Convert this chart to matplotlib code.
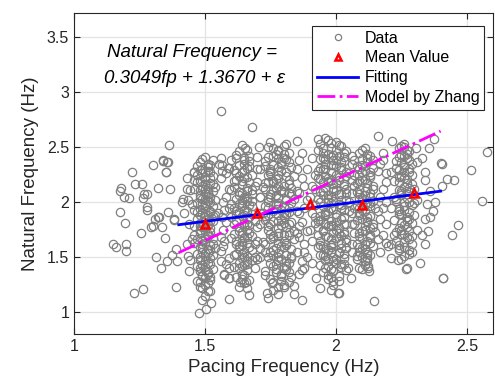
import matplotlib
matplotlib.use("Agg")
import matplotlib.pyplot as plt
import numpy as np

plt.rcParams["font.family"] = ["Liberation Sans", "DejaVu Sans"]

# scattered points left of the dense bands (fp, fn)
left_pts = [
    (1.362, 2.52), (1.34, 2.37), (1.36, 2.36), (1.30, 2.34), (1.22, 2.27), (1.35, 2.27),
    (1.234, 2.16), (1.26, 2.16), (1.32, 2.13), (1.366, 2.12), (1.18, 2.13), (1.177, 2.10),
    (1.19, 2.045), (1.21, 2.04), (1.268, 2.075), (1.277, 2.07), (1.265, 2.04), (1.278, 1.955),
    (1.28, 1.93), (1.177, 1.91), (1.36, 1.91), (1.32, 1.86), (1.31, 1.85), (1.43, 2.115),
    (1.443, 2.11), (1.417, 2.03), (1.413, 2.00), (1.435, 2.02), (1.46, 2.27), (1.38, 1.845),
    (1.196, 1.81), (1.326, 1.86), (1.30, 1.78), (1.293, 1.77), (1.38, 1.84), (1.335, 1.77),
    (1.255, 1.72), (1.347, 1.67), (1.15, 1.615), (1.16, 1.595), (1.20, 1.62), (1.198, 1.555),
    (1.39, 1.57), (1.43, 1.62), (1.313, 1.50), (1.375, 1.515), (1.356, 1.46), (1.332, 1.40),
    (1.395, 1.46), (1.436, 1.51), (1.442, 1.47), (1.231, 1.175), (1.265, 1.206), (1.39, 1.23),
    (1.338, 2.38), (1.357, 2.36), (1.35, 2.275), (1.458, 2.27), (1.44, 1.80), (1.45, 1.66),
    (1.42, 1.90), (1.44, 1.37), (1.43, 2.22), (1.45, 1.98),
]

# scattered points right of the dense bands
right_pts = [
    (2.576, 2.457), (2.516, 2.29), (2.40, 2.355), (2.405, 2.35), (2.424, 2.21), (2.45, 2.197),
    (2.405, 2.145), (2.557, 2.01), (2.374, 2.57), (2.355, 2.49), (2.327, 2.40), (2.346, 1.98),
    (2.465, 1.79), (2.443, 1.70), (2.359, 1.86), (2.32, 1.45), (2.41, 1.31), (2.269, 1.39),
    (2.237, 1.47), (2.209, 1.49), (2.408, 1.305), (2.34, 1.62), (2.36, 2.10), (2.35, 1.74),
    (2.38, 2.00), (2.34, 2.27), (2.37, 1.92), (2.34, 2.20), (2.33, 1.70), (2.34, 1.85),
]

# points between / around the bands, including outliers
mid_pts = [
    (1.563, 2.83), (1.678, 2.68), (2.159, 2.60), (1.93, 2.575), (1.85, 2.555), (2.216, 2.555),
    (2.304, 2.49), (1.705, 2.50), (1.654, 2.49), (1.78, 2.46), (1.563, 2.40), (1.553, 2.35),
    (1.589, 2.31), (1.61, 2.19), (1.566, 2.34), (1.566, 2.28), (1.59, 2.31), (1.572, 1.93),
    (1.566, 1.86), (1.572, 1.65), (1.56, 1.555), (1.59, 1.49), (1.572, 1.34), (1.59, 1.31),
    (1.593, 1.115), (1.667, 1.155), (1.736, 1.175), (1.742, 1.13), (1.755, 1.26), (1.78, 1.23),
    (1.80, 1.23), (1.82, 1.27), (1.635, 1.27), (1.656, 1.27), (1.572, 1.35), (1.593, 1.31),
    (1.69, 1.40), (1.869, 1.106), (1.88, 1.40), (1.925, 1.305), (1.938, 1.215), (1.97, 1.335),
    (1.99, 1.28), (2.01, 1.175), (2.147, 1.10), (2.008, 1.175), (2.056, 1.31), (2.048, 1.40),
    (2.124, 1.40), (2.128, 1.37), (2.09, 1.40), (2.124, 1.42), (2.27, 1.40),
    (2.19, 1.625), (2.29, 1.55), (1.58, 2.05), (1.57, 1.75), (1.59, 2.12),
    (1.58, 1.44), (1.70, 2.30), (1.71, 2.05), (1.70, 1.77), (1.71, 1.58), (1.70, 2.41),
    (1.86, 2.38), (1.87, 2.22), (1.86, 2.08), (1.88, 1.95), (1.87, 1.82), (1.86, 1.68),
    (1.88, 1.55), (1.87, 1.46), (1.89, 2.30), (1.89, 1.74), (1.86, 1.35), (2.06, 2.42),
    (2.06, 2.20), (2.06, 1.90), (2.06, 1.62), (2.17, 2.35), (2.18, 2.12), (2.17, 1.85),
    (2.18, 1.70), (2.19, 2.00), (2.18, 2.45), (2.17, 1.55), (2.19, 2.26), (1.84, 1.16),
    (1.56, 2.22), (1.57, 2.00), (1.58, 1.82), (1.56, 1.68), (1.57, 1.60), (1.59, 1.40),
    (1.58, 2.26), (1.55, 1.90), (1.59, 1.95), (1.56, 1.46), (1.87, 2.45), (1.88, 2.15),
    (1.86, 1.90), (1.88, 1.62), (1.87, 1.38), (1.89, 2.02), (1.86, 1.78), (1.89, 1.50),
    (2.18, 2.38), (2.19, 1.80), (2.17, 2.05), (2.20, 1.60), (2.18, 1.95), (2.19, 2.18),
    (1.70, 2.18), (1.71, 1.90), (1.70, 1.65), (1.70, 1.48),
]

band_a = [
    (1.50, 2.41), (1.48, 2.36), (1.52, 2.34), (1.49, 2.30), (1.51, 2.28), (1.47, 2.25), (1.53, 2.24),
    (1.50, 2.21), (1.48, 2.19), (1.52, 2.17), (1.49, 2.15), (1.51, 2.13), (1.46, 2.12), (1.53, 2.10),
    (1.50, 2.08), (1.48, 2.06), (1.52, 2.05), (1.49, 2.03), (1.51, 2.01), (1.47, 1.99), (1.50, 1.97),
    (1.53, 1.96), (1.48, 1.94), (1.52, 1.92), (1.49, 1.90), (1.51, 1.88), (1.50, 1.86), (1.47, 1.85),
    (1.53, 1.83), (1.48, 1.81), (1.51, 1.79), (1.49, 1.77), (1.52, 1.76), (1.50, 1.74), (1.48, 1.72),
    (1.46, 1.70), (1.51, 1.69), (1.53, 1.67), (1.49, 1.65), (1.50, 1.63), (1.52, 1.61), (1.48, 1.59),
    (1.51, 1.57), (1.49, 1.55), (1.47, 1.53), (1.50, 1.51), (1.52, 1.49), (1.48, 1.47), (1.51, 1.45),
    (1.49, 1.43), (1.50, 1.41), (1.53, 1.39), (1.48, 1.37), (1.51, 1.35), (1.49, 1.33), (1.50, 1.31),
    (1.52, 1.29), (1.48, 1.27), (1.50, 1.25), (1.49, 1.22), (1.51, 1.19), (1.50, 1.15), (1.49, 1.11),
    (1.522, 1.085), (1.503, 1.03), (1.477, 0.99), (1.52, 1.32), (1.47, 1.28), (1.51, 2.32), (1.49, 2.26),
    (1.52, 2.22), (1.50, 2.16), (1.48, 2.11), (1.51, 2.07), (1.49, 1.98), (1.52, 1.91), (1.50, 1.84),
    (1.48, 1.78), (1.51, 1.71), (1.49, 1.62), (1.52, 1.56), (1.50, 1.46), (1.48, 1.40), (1.51, 1.36),
    (1.46, 2.20), (1.54, 2.14), (1.46, 1.93), (1.54, 1.88), (1.46, 1.63), (1.54, 1.58), (1.53, 2.38),
    (1.47, 2.33), (1.47, 1.42), (1.53, 1.52), (1.46, 1.78), (1.54, 2.02),
    (1.49, 2.39), (1.51, 2.35), (1.48, 2.29), (1.52, 2.27), (1.50, 2.23), (1.47, 2.18), (1.53, 2.16),
    (1.49, 2.12), (1.51, 2.09), (1.48, 2.04), (1.52, 2.00), (1.50, 1.95), (1.47, 1.91), (1.53, 1.87),
    (1.49, 1.82), (1.51, 1.80), (1.48, 1.75), (1.52, 1.73), (1.50, 1.68), (1.47, 1.66), (1.53, 1.62),
    (1.49, 1.58), (1.51, 1.54), (1.48, 1.50), (1.52, 1.44), (1.50, 1.38), (1.49, 1.34), (1.51, 1.26),
    (1.48, 1.23), (1.52, 1.19), (1.50, 1.99), (1.50, 1.89), (1.50, 1.77), (1.50, 1.66), (1.50, 1.54),
    (1.50, 2.27), (1.50, 2.12), (1.50, 2.03), (1.52, 1.83), (1.48, 1.88),
]

band_b = [
    (1.64, 2.52), (1.66, 2.47), (1.62, 2.43), (1.65, 2.40), (1.67, 2.37), (1.63, 2.34), (1.66, 2.31),
    (1.61, 2.29), (1.64, 2.27), (1.68, 2.25), (1.65, 2.22), (1.62, 2.20), (1.67, 2.18), (1.64, 2.16),
    (1.66, 2.13), (1.60, 2.11), (1.63, 2.09), (1.68, 2.07), (1.65, 2.05), (1.62, 2.03), (1.66, 2.01),
    (1.64, 1.99), (1.67, 1.97), (1.61, 1.95), (1.65, 1.93), (1.63, 1.91), (1.68, 1.89), (1.64, 1.87),
    (1.66, 1.85), (1.62, 1.83), (1.65, 1.81), (1.67, 1.79), (1.63, 1.77), (1.66, 1.75), (1.64, 1.73),
    (1.61, 1.71), (1.68, 1.69), (1.65, 1.67), (1.62, 1.65), (1.66, 1.63), (1.64, 1.61), (1.67, 1.59),
    (1.63, 1.57), (1.65, 1.55), (1.62, 1.53), (1.66, 1.51), (1.64, 1.49), (1.68, 1.47), (1.63, 1.45),
    (1.65, 1.43), (1.61, 1.41), (1.66, 1.38), (1.64, 1.35), (1.62, 1.32), (1.67, 1.29), (1.65, 1.26),
    (1.63, 1.23), (1.65, 2.35), (1.63, 2.24), (1.66, 2.10), (1.64, 2.02), (1.62, 1.92), (1.66, 1.80),
    (1.64, 1.70), (1.63, 1.60), (1.66, 1.46), (1.60, 1.86), (1.69, 2.15), (1.69, 1.62), (1.60, 2.38),
    (1.68, 1.96), (1.61, 1.52), (1.67, 2.42),
    (1.63, 2.46), (1.65, 2.38), (1.67, 2.33), (1.62, 2.26), (1.66, 2.23), (1.64, 2.19), (1.61, 2.14),
    (1.68, 2.11), (1.63, 2.06), (1.66, 2.04), (1.64, 1.96), (1.62, 1.89), (1.67, 1.86), (1.65, 1.78),
    (1.63, 1.74), (1.66, 1.68), (1.62, 1.62), (1.68, 1.56), (1.64, 1.53), (1.66, 1.44), (1.63, 1.40),
    (1.65, 1.34), (1.64, 1.30), (1.66, 1.22), (1.65, 2.29), (1.64, 2.08), (1.65, 1.88), (1.64, 1.65),
    (1.65, 1.50), (1.67, 1.72), (1.61, 1.80), (1.68, 2.01), (1.62, 2.40), (1.60, 1.98), (1.69, 1.83),
    (1.60, 1.67), (1.69, 1.50), (1.63, 1.98), (1.66, 1.92), (1.64, 1.42),
]

band_c = [
    (1.74, 2.50), (1.78, 2.47), (1.82, 2.45), (1.76, 2.42), (1.80, 2.40), (1.73, 2.37), (1.79, 2.35),
    (1.83, 2.32), (1.75, 2.30), (1.81, 2.27), (1.74, 2.25), (1.78, 2.22), (1.82, 2.20), (1.76, 2.17),
    (1.80, 2.15), (1.73, 2.12), (1.79, 2.10), (1.83, 2.07), (1.75, 2.05), (1.81, 2.02), (1.74, 2.00),
    (1.78, 1.97), (1.82, 1.95), (1.76, 1.92), (1.80, 1.90), (1.73, 1.87), (1.79, 1.85), (1.83, 1.82),
    (1.75, 1.80), (1.81, 1.77), (1.74, 1.75), (1.78, 1.72), (1.82, 1.70), (1.76, 1.67), (1.80, 1.65),
    (1.73, 1.62), (1.79, 1.60), (1.83, 1.57), (1.75, 1.55), (1.81, 1.52), (1.74, 1.50), (1.78, 1.47),
    (1.82, 1.45), (1.76, 1.42), (1.80, 1.40), (1.73, 1.37), (1.79, 1.35), (1.83, 1.32), (1.75, 1.30),
    (1.77, 2.44), (1.81, 2.39), (1.73, 2.33), (1.79, 2.28), (1.84, 2.24), (1.76, 2.19), (1.72, 2.14),
    (1.80, 2.09), (1.78, 2.04), (1.83, 1.99), (1.77, 1.94), (1.81, 1.89), (1.73, 1.84), (1.79, 1.79),
    (1.84, 1.74), (1.76, 1.69), (1.72, 1.64), (1.80, 1.59), (1.78, 1.54), (1.83, 1.49), (1.77, 1.44),
    (1.81, 1.39), (1.73, 1.34), (1.79, 1.28), (1.84, 1.24), (1.76, 1.20), (1.79, 2.36), (1.75, 2.26),
    (1.82, 2.16), (1.77, 2.06), (1.73, 1.96), (1.80, 1.86), (1.78, 1.76), (1.84, 1.66), (1.76, 1.56),
    (1.81, 1.46), (1.77, 1.36), (1.78, 1.16), (1.75, 2.55), (1.81, 2.53), (1.77, 2.13), (1.79, 1.93),
    (1.75, 1.71), (1.81, 1.63), (1.72, 1.90), (1.84, 2.03), (1.74, 2.18), (1.82, 1.80),
    (1.76, 2.49), (1.80, 2.44), (1.74, 2.41), (1.82, 2.36), (1.78, 2.32), (1.75, 2.28), (1.81, 2.24),
    (1.77, 2.21), (1.73, 2.17), (1.83, 2.13), (1.79, 2.11), (1.75, 2.07), (1.81, 2.03), (1.77, 1.98),
    (1.74, 1.95), (1.82, 1.91), (1.78, 1.88), (1.76, 1.83), (1.80, 1.81), (1.74, 1.78), (1.82, 1.73),
    (1.78, 1.69), (1.75, 1.66), (1.81, 1.61), (1.77, 1.58), (1.73, 1.55), (1.83, 1.51), (1.79, 1.48),
    (1.75, 1.45), (1.81, 1.42), (1.77, 1.39), (1.79, 1.33), (1.76, 1.27), (1.80, 1.25), (1.78, 2.40),
    (1.78, 2.25), (1.78, 2.15), (1.78, 1.99), (1.78, 1.83), (1.78, 1.63), (1.78, 1.50), (1.85, 2.30),
    (1.85, 2.10), (1.85, 1.92), (1.85, 1.72), (1.85, 1.55), (1.71, 2.30), (1.71, 1.80), (1.71, 1.50),
    (1.71, 2.05), (1.80, 2.51), (1.76, 2.34), (1.82, 2.08), (1.74, 1.88), (1.80, 1.70), (1.76, 1.52),
    (1.82, 1.36), (1.74, 2.03), (1.80, 1.96), (1.76, 2.11),
]

band_d = [
    (1.96, 2.58), (2.00, 2.55), (1.94, 2.53), (2.02, 2.51), (1.98, 2.49), (1.93, 2.47), (2.04, 2.46),
    (1.97, 2.44), (2.01, 2.42), (1.95, 2.40), (1.99, 2.38), (2.03, 2.37), (1.96, 2.35), (2.00, 2.33),
    (1.94, 2.31), (2.02, 2.29), (1.98, 2.27), (1.92, 2.25), (2.04, 2.24), (1.97, 2.22), (2.01, 2.20),
    (1.95, 2.18), (1.99, 2.16), (2.03, 2.15), (1.96, 2.13), (2.00, 2.11), (1.94, 2.09), (2.02, 2.07),
    (1.98, 2.05), (1.93, 2.03), (2.04, 2.02), (1.97, 2.00), (2.01, 1.98), (1.95, 1.96), (1.99, 1.94),
    (2.03, 1.93), (1.96, 1.91), (2.00, 1.89), (1.94, 1.87), (2.02, 1.85), (1.98, 1.83), (1.92, 1.81),
    (2.04, 1.80), (1.97, 1.78), (2.01, 1.76), (1.95, 1.74), (1.99, 1.72), (2.03, 1.71), (1.96, 1.69),
    (2.00, 1.67), (1.94, 1.65), (2.02, 1.63), (1.98, 1.61), (1.93, 1.59), (2.04, 1.58), (1.97, 1.56),
    (2.01, 1.54), (1.95, 1.52), (1.99, 1.50), (2.03, 1.49), (1.96, 1.47), (2.00, 1.45), (1.94, 1.43),
    (2.02, 1.41), (1.98, 1.39), (1.95, 1.36), (2.01, 1.33), (1.97, 1.30), (1.99, 1.25), (1.98, 1.20),
    (1.98, 2.54), (1.95, 2.45), (2.03, 2.41), (1.99, 2.34), (1.93, 2.28), (2.01, 2.23), (1.97, 2.19),
    (2.04, 2.12), (1.95, 2.06), (1.99, 2.01), (2.02, 1.95), (1.96, 1.88), (2.00, 1.82), (1.93, 1.77),
    (2.03, 1.73), (1.98, 1.66), (1.95, 1.60), (2.01, 1.55), (1.97, 1.48), (2.02, 1.44), (1.96, 1.40),
    (2.00, 2.47), (1.96, 2.39), (2.02, 2.32), (1.94, 2.21), (1.99, 2.10), (2.05, 2.00), (1.97, 1.92),
    (1.94, 1.84), (2.00, 1.75), (2.04, 1.64), (1.96, 1.57), (1.99, 1.46), (2.03, 1.53), (1.93, 1.70),
    (2.05, 2.26), (1.92, 1.97), (2.03, 1.86), (1.97, 2.06), (2.00, 2.17), (1.95, 2.30),
    (1.97, 2.56), (2.01, 2.52), (1.95, 2.49), (2.03, 2.45), (1.99, 2.43), (1.94, 2.39), (2.02, 2.36),
    (1.98, 2.34), (1.96, 2.30), (2.04, 2.27), (2.00, 2.25), (1.93, 2.22), (1.97, 2.18), (2.03, 2.16),
    (1.99, 2.13), (1.95, 2.10), (2.01, 2.07), (1.97, 2.03), (1.94, 2.00), (2.02, 1.97), (1.98, 1.95),
    (2.05, 1.92), (1.96, 1.89), (2.00, 1.86), (1.93, 1.83), (2.03, 1.80), (1.99, 1.78), (1.95, 1.75),
    (2.01, 1.72), (1.97, 1.68), (2.04, 1.66), (1.99, 1.63), (1.94, 1.61), (2.02, 1.58), (1.98, 1.55),
    (1.96, 1.51), (2.00, 1.48), (2.03, 1.44), (1.97, 1.42), (1.99, 1.37), (2.01, 1.28), (1.98, 1.32),
    (1.91, 2.40), (1.91, 2.15), (1.91, 1.90), (1.91, 1.65), (1.91, 1.45), (2.06, 2.35), (2.06, 2.08),
    (2.06, 1.80), (2.06, 1.55), (2.07, 1.95), (1.90, 2.05), (1.90, 1.75), (2.07, 2.25), (1.98, 2.41),
    (1.98, 2.20), (1.98, 1.99), (1.98, 1.79), (1.98, 1.59), (2.00, 2.38), (1.96, 2.24), (2.02, 2.02),
    (1.96, 1.80), (2.02, 1.69), (1.94, 1.52), (2.04, 1.38), (1.92, 2.12), (2.04, 2.08), (1.92, 1.86),
]

band_e = [
    (2.11, 2.49), (2.09, 2.45), (2.13, 2.42), (2.10, 2.39), (2.12, 2.36), (2.08, 2.33), (2.14, 2.31),
    (2.11, 2.28), (2.09, 2.25), (2.13, 2.23), (2.10, 2.20), (2.12, 2.17), (2.07, 2.15), (2.14, 2.12),
    (2.11, 2.10), (2.09, 2.07), (2.13, 2.05), (2.10, 2.02), (2.12, 2.00), (2.08, 1.97), (2.15, 1.95),
    (2.11, 1.92), (2.09, 1.90), (2.13, 1.87), (2.10, 1.85), (2.12, 1.82), (2.07, 1.80), (2.14, 1.77),
    (2.11, 1.75), (2.09, 1.72), (2.13, 1.70), (2.10, 1.67), (2.12, 1.65), (2.08, 1.62), (2.14, 1.60),
    (2.11, 1.57), (2.09, 1.55), (2.13, 1.52), (2.10, 1.50), (2.12, 1.47), (2.11, 1.43), (2.10, 1.39),
    (2.12, 2.44), (2.10, 2.34), (2.13, 2.27), (2.09, 2.19), (2.12, 2.13), (2.10, 2.04), (2.13, 1.96),
    (2.09, 1.88), (2.12, 1.83), (2.10, 1.74), (2.13, 1.68), (2.09, 1.59), (2.12, 1.53), (2.14, 2.38),
    (2.08, 2.09), (2.15, 1.73), (2.08, 1.48), (2.14, 2.01),
    (2.10, 2.47), (2.12, 2.40), (2.09, 2.30), (2.13, 2.25), (2.11, 2.21), (2.08, 2.17), (2.14, 2.15),
    (2.11, 2.06), (2.09, 2.03), (2.13, 1.99), (2.10, 1.93), (2.12, 1.86), (2.08, 1.84), (2.14, 1.80),
    (2.11, 1.78), (2.09, 1.69), (2.13, 1.63), (2.10, 1.58), (2.12, 1.55), (2.08, 1.51), (2.11, 1.46),
    (2.16, 2.28), (2.16, 1.92), (2.16, 1.66), (2.07, 2.38), (2.07, 1.72), (2.11, 2.33), (2.11, 1.98),
    (2.11, 1.62), (2.13, 2.08), (2.09, 1.95), (2.13, 1.76), (2.09, 2.12), (2.12, 1.49), (2.10, 2.27),
]

band_f = [
    (2.26, 2.53), (2.24, 2.49), (2.28, 2.46), (2.25, 2.43), (2.27, 2.40), (2.23, 2.37), (2.29, 2.35),
    (2.26, 2.32), (2.24, 2.29), (2.28, 2.27), (2.25, 2.24), (2.27, 2.21), (2.22, 2.19), (2.29, 2.16),
    (2.26, 2.14), (2.24, 2.11), (2.28, 2.09), (2.25, 2.06), (2.27, 2.04), (2.23, 2.01), (2.30, 1.99),
    (2.26, 1.96), (2.24, 1.94), (2.28, 1.91), (2.25, 1.89), (2.27, 1.86), (2.22, 1.84), (2.29, 1.81),
    (2.26, 1.79), (2.24, 1.76), (2.28, 1.74), (2.25, 1.71), (2.27, 1.68), (2.23, 1.65), (2.29, 1.62),
    (2.26, 1.59), (2.24, 1.56), (2.28, 1.53), (2.25, 1.48), (2.27, 2.44), (2.25, 2.36), (2.28, 2.30),
    (2.24, 2.23), (2.27, 2.17), (2.25, 2.08), (2.28, 2.00), (2.24, 1.92), (2.27, 1.83), (2.25, 1.75),
    (2.28, 1.66), (2.24, 1.61), (2.30, 2.12), (2.22, 2.05), (2.30, 1.88), (2.22, 1.70), (2.26, 2.50),
    (2.25, 2.51), (2.27, 2.47), (2.24, 2.41), (2.28, 2.38), (2.26, 2.34), (2.23, 2.31), (2.29, 2.25),
    (2.26, 2.22), (2.24, 2.18), (2.28, 2.13), (2.25, 2.10), (2.27, 2.07), (2.23, 2.03), (2.29, 1.97),
    (2.26, 1.93), (2.24, 1.89), (2.28, 1.85), (2.25, 1.81), (2.27, 1.77), (2.23, 1.73), (2.29, 1.69),
    (2.26, 1.64), (2.24, 1.58), (2.28, 1.56), (2.26, 1.51), (2.31, 2.36), (2.31, 2.02), (2.31, 1.75),
    (2.21, 2.27), (2.21, 1.95), (2.21, 1.62), (2.26, 2.27), (2.26, 2.00), (2.26, 1.71), (2.26, 2.42),
]

# binned means, fitted line and Zhang's model
mean_x = [1.5, 1.7, 1.9, 2.1, 2.3]
mean_y = [1.80, 1.90, 1.98, 1.97, 2.085]
fit_x = [1.4, 2.4]
fit_y = [1.794, 2.099]
zhang_x = [1.4, 2.4]
zhang_y = [1.54, 2.645]

all_pts = left_pts + right_pts + mid_pts + band_a + band_b + band_c + band_d + band_e + band_f
data_x = [p[0] for p in all_pts]
data_y = [p[1] for p in all_pts]

fig = plt.figure(figsize=(4.95, 3.92), dpi=100)
ax = fig.add_axes([0.1495, 0.148, 0.8465, 0.819])

ax.plot(data_x, data_y, "o", markersize=6.0, markerfacecolor="none",
        markeredgecolor="#808080", markeredgewidth=0.9, label="Data", zorder=2)
ax.plot(mean_x, mean_y, "^", markersize=5.5, markerfacecolor="none",
        markeredgecolor="#ff0000", markeredgewidth=1.8, linestyle="none",
        label="Mean Value", zorder=5)
ax.plot(fit_x, fit_y, "-", color="#0000ff", linewidth=2, label="Fitting", zorder=3)
ax.plot(zhang_x, zhang_y, "-.", color="#ff00ff", linewidth=2,
        label="Model by Zhang", zorder=4)

ax.set_xlim(1, 2.6)
ax.set_ylim(0.8, 3.72)
ax.set_xticks([1, 1.5, 2, 2.5])
ax.set_xticklabels(["1", "1.5", "2", "2.5"])
ax.set_yticks([1, 1.5, 2, 2.5, 3, 3.5])
ax.set_yticklabels(["1", "1.5", "2", "2.5", "3", "3.5"])
ax.tick_params(direction="in", top=True, right=True, labelsize=11.5,
               colors="#262626", length=4, width=0.8)
for s in ax.spines.values():
    s.set_color("#262626")
    s.set_linewidth(0.8)
ax.grid(True, color="#e3e3e3", linewidth=0.9)
ax.set_axisbelow(True)

ax.set_xlabel("Pacing Frequency (Hz)", fontsize=13.5, color="#262626", labelpad=4)
ax.set_ylabel("Natural Frequency (Hz)", fontsize=13.5, color="#262626", labelpad=6)

ax.text(0.282, 0.878, "Natural Frequency =", transform=ax.transAxes,
        fontsize=13.5, style="italic", ha="center", va="center")
ax.text(0.287, 0.797, "0.3049fp + 1.3670 + \u03b5", transform=ax.transAxes,
        fontsize=13.5, style="italic", ha="center", va="center")

leg = ax.legend(loc="upper right", bbox_to_anchor=(0.979, 0.96), borderaxespad=0,
                fontsize=11.5, fancybox=False, framealpha=1, edgecolor="#262626",
                handlelength=2.6, handletextpad=0.4, labelspacing=0.3,
                borderpad=0.3, markerscale=0.75)
leg.get_frame().set_linewidth(0.8)

fig.savefig("out.png", dpi=100)
